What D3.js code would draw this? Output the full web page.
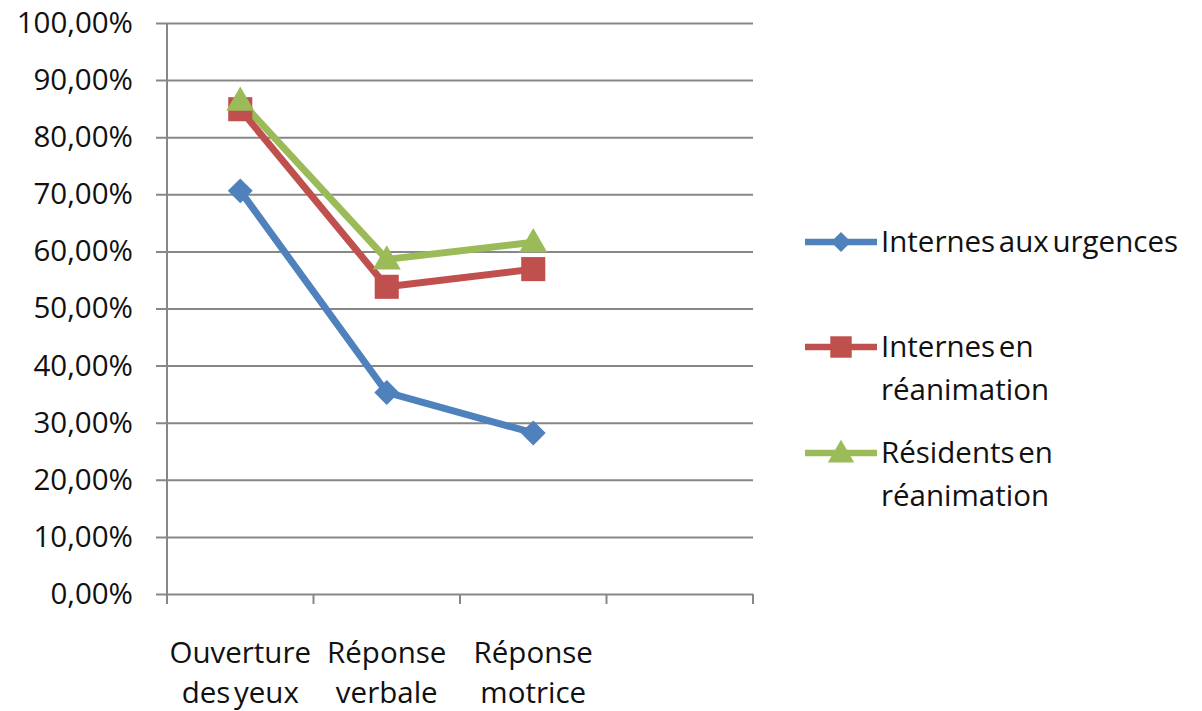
<!DOCTYPE html>
<html>
<head>
<meta charset="utf-8">
<script src="https://cdn.jsdelivr.net/npm/d3@7"></script>
<style>
  html, body { margin: 0; padding: 0; background: #fff; }
  svg { display: block; }
  text { font-family: "Open Sans", "DejaVu Sans", sans-serif; fill: #111; }
</style>
</head>
<body>
<svg id="chart" width="1202" height="711"></svg>
<script>
// Categories (the fourth slot of the axis is left empty)
const categories = ["Ouverture des yeux", "Réponse verbale", "Réponse motrice", ""];

// Series values, in percent
const urgences = [70.6, 35.3, 28.2];
const internesRea = [84.9, 53.8, 56.9];
const residentsRea = [86.4, 58.6, 61.6];

const seriesNames = ["Internes aux urgences", "Internes en réanimation", "Résidents en réanimation"];
const legendLines = [["Internes aux urgences"], ["Internes en", "réanimation"], ["Résidents en", "réanimation"]];

// Y tick values
const yTicks = [0, 10, 20, 30, 40, 50, 60, 70, 80, 90, 100];

const series = [
  { name: seriesNames[0], values: urgences, color: "#4F81BD", marker: "diamond" },
  { name: seriesNames[1], values: internesRea, color: "#C0504D", marker: "square" },
  { name: seriesNames[2], values: residentsRea, color: "#9BBB59", marker: "triangle" }
];

const svg = d3.select("#chart");
const plot = { left: 167, right: 753, top: 23, bottom: 594 };
const gridColor = "#878787";
const fontSize = 29.5;

const x = d3.scaleBand().domain(categories.map((c, i) => i)).range([plot.left, plot.right]);
const y = d3.scaleLinear().domain([0, 100]).range([plot.bottom, plot.top]);

const fmt = v => d3.format(".2f")(v).replace(".", ",") + "%";

// Horizontal gridlines + y axis labels
const yAxis = d3.axisLeft(y).tickValues(yTicks).tickFormat(fmt)
  .tickSize(-(plot.right - plot.left)).tickPadding(34);
const gy = svg.append("g").attr("transform", `translate(${plot.left},0)`).call(yAxis);
gy.select(".domain").remove();
gy.selectAll(".tick line").attr("stroke", gridColor).attr("stroke-width", 2).attr("x1", -11);
gy.selectAll(".tick text").attr("font-size", fontSize).attr("fill", "#111")
  .style("font-family", "'Open Sans', sans-serif");

// Vertical axis line
svg.append("line")
  .attr("x1", plot.left).attr("x2", plot.left)
  .attr("y1", plot.top).attr("y2", plot.bottom + 10)
  .attr("stroke", gridColor).attr("stroke-width", 2);

// Category axis with tick marks at band edges
const edges = categories.map((c, i) => x(i)).concat([plot.right]);
svg.selectAll("line.xtick").data(edges).enter().append("line")
  .attr("class", "xtick")
  .attr("x1", d => d).attr("x2", d => d)
  .attr("y1", plot.bottom).attr("y2", plot.bottom + 10)
  .attr("stroke", gridColor).attr("stroke-width", 2);

// Category labels, wrapped at the first space
const xl = svg.selectAll("text.xlab").data(categories.filter(c => c)).enter().append("text")
  .attr("class", "xlab")
  .attr("text-anchor", "middle")
  .attr("font-size", fontSize)
  .attr("x", (d, i) => x(i) + x.bandwidth() / 2);
xl.each(function(d) {
  const k = d.indexOf(" ");
  const lines = [d.slice(0, k), d.slice(k + 1)];
  d3.select(this).selectAll("tspan").data(lines).enter().append("tspan")
    .attr("x", d3.select(this).attr("x"))
    .attr("y", (l, j) => 663 + j * 40)
    .style("word-spacing", "-4px")
    .text(l => l);
});

// Lines
const lineGen = d3.line().x((v, i) => x(i) + x.bandwidth() / 2).y(v => y(v));
series.forEach(s => {
  svg.append("path").datum(s.values)
    .attr("d", lineGen)
    .attr("fill", "none")
    .attr("stroke", s.color)
    .attr("stroke-width", 7)
    .attr("stroke-linejoin", "round");
});

// Markers
const symbolOf = m => m === "diamond" ? d3.symbol().type(d3.symbolSquare).size(310)
  : m === "square" ? d3.symbol().type(d3.symbolSquare).size(580)
  : d3.symbol().type(d3.symbolTriangle).size(340);
series.forEach(s => {
  svg.selectAll(null).data(s.values).enter().append("path")
    .attr("d", symbolOf(s.marker)())
    .attr("fill", s.color)
    .attr("transform", (v, i) => `translate(${x(i) + x.bandwidth() / 2},${y(v)})` + (s.marker === "diamond" ? " rotate(45)" : "") + (s.marker === "triangle" ? " translate(0,2)" : ""));
});

// Legend
const legendRows = [242, 347, 453];
series.forEach((s, i) => {
  const g = svg.append("g").attr("transform", `translate(0,${legendRows[i]})`);
  g.append("line").attr("x1", 805).attr("x2", 877).attr("y1", 0).attr("y2", 0)
    .attr("stroke", s.color).attr("stroke-width", 6.5);
  const m = s.marker === "square" ? d3.symbol().type(d3.symbolSquare).size(460)
    : s.marker === "diamond" ? d3.symbol().type(d3.symbolSquare).size(200)
    : d3.symbol().type(d3.symbolTriangle).size(300);
  g.append("path").attr("d", m()).attr("fill", s.color)
    .attr("transform", "translate(841,0)" + (s.marker === "diamond" ? " rotate(45)" : "") + (s.marker === "triangle" ? " translate(0,2)" : ""));
  const t = g.append("text").attr("font-size", fontSize).attr("x", 881);
  legendLines[i].forEach((l, j) => {
    t.append("tspan").attr("x", 881).attr("y", 10 + j * 43)
      .style("word-spacing", "-4px").text(l);
  });
});
</script>
</body>
</html>
